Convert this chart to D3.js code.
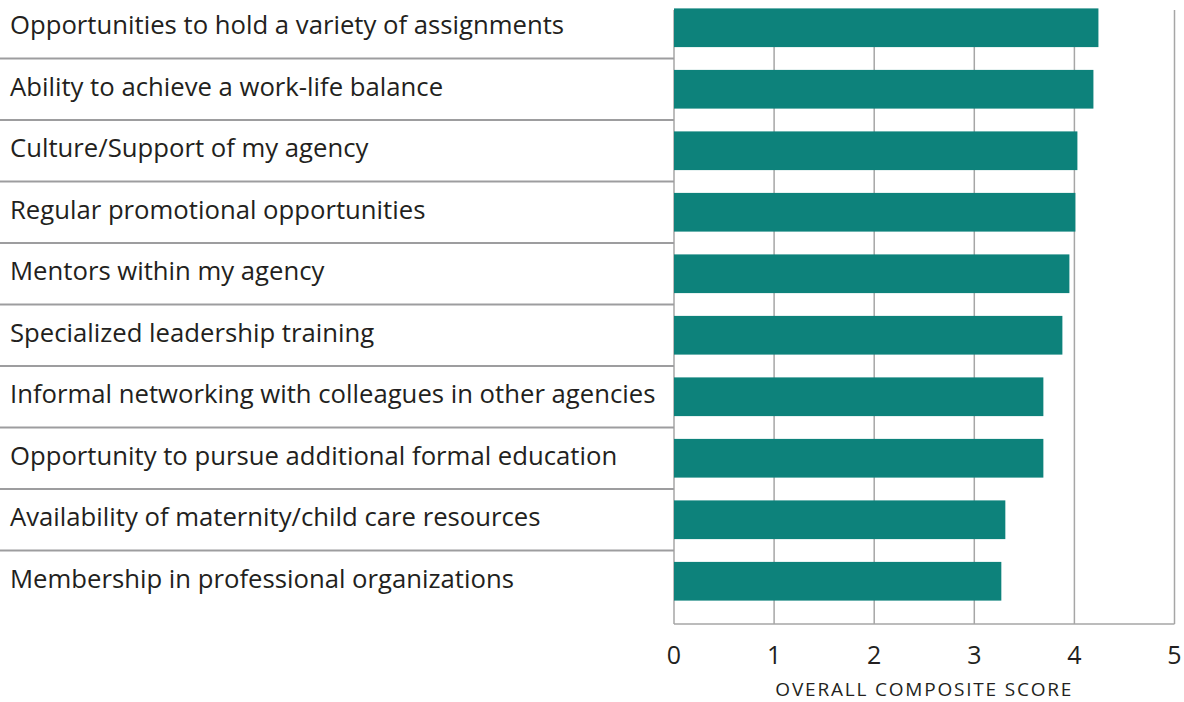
<!DOCTYPE html>
<html>
<head>
<meta charset="utf-8">
<script src="https://cdn.jsdelivr.net/npm/d3@7"></script>
<style>
  body { margin: 0; background: #fff; }
  svg text { font-family: "Open Sans", Lato, sans-serif; fill: #231f20; }
</style>
</head>
<body>
<div id="chart"></div>
<script>
// Data
const categories = [
  "Opportunities to hold a variety of assignments",
  "Ability to achieve a work-life balance",
  "Culture/Support of my agency",
  "Regular promotional opportunities",
  "Mentors within my agency",
  "Specialized leadership training",
  "Informal networking with colleagues in other agencies",
  "Opportunity to pursue additional formal education",
  "Availability of maternity/child care resources",
  "Membership in professional organizations"
];
const scores = [4.24, 4.19, 4.03, 4.01, 3.95, 3.88, 3.69, 3.69, 3.31, 3.27];
const xTicks = [0, 1, 2, 3, 4, 5];
const axisTitle = "OVERALL COMPOSITE SCORE";

const data = categories.map((c, i) => ({ label: c, value: scores[i] }));

const width = 1184;
const height = 702;

const svg = d3
  .select("#chart")
  .append("svg")
  .attr("width", width)
  .attr("height", height);

// Scales
const x = d3.scaleLinear().domain([0, 5]).range([674, 1174.5]);
const y = d3
  .scaleBand()
  .domain(categories)
  .range([-3, 612])
  .paddingInner(0);

const barH = 38.7;
const gridTop = 10;
const gridBottom = 624;

// Vertical gridlines
svg
  .append("g")
  .selectAll("line")
  .data(xTicks)
  .enter()
  .append("line")
  .attr("x1", (d) => x(d))
  .attr("x2", (d) => x(d))
  .attr("y1", gridTop)
  .attr("y2", gridBottom)
  .attr("stroke", "#a6a6a6")
  .attr("stroke-width", 1.5);

// Bottom line of plot
svg
  .append("line")
  .attr("x1", x(0))
  .attr("x2", x(5))
  .attr("y1", gridBottom)
  .attr("y2", gridBottom)
  .attr("stroke", "#a6a6a6")
  .attr("stroke-width", 1.5);

// Row separators on the label side
svg
  .append("g")
  .selectAll("line")
  .data(categories.slice(0, -1))
  .enter()
  .append("line")
  .attr("x1", 0)
  .attr("x2", x(0))
  .attr("y1", (d) => y(d) + y.bandwidth())
  .attr("y2", (d) => y(d) + y.bandwidth())
  .attr("stroke", "#9d9d9f")
  .attr("stroke-width", 2);

// Bars
svg
  .append("g")
  .selectAll("rect")
  .data(data)
  .enter()
  .append("rect")
  .attr("x", x(0))
  .attr("y", (d) => y(d.label) + (y.bandwidth() - barH) / 2)
  .attr("width", (d) => x(d.value) - x(0))
  .attr("height", barH)
  .attr("fill", "#0d827b");

// Category labels
svg
  .append("g")
  .selectAll("text")
  .data(data)
  .enter()
  .append("text")
  .attr("x", 10)
  .attr("y", (d) => y(d.label) + y.bandwidth() / 2 - 3)
  .attr("dominant-baseline", "central")
  .style("font-size", "25.7px")
  .text((d) => d.label);

// Tick labels
svg
  .append("g")
  .selectAll("text")
  .data(xTicks)
  .enter()
  .append("text")
  .attr("x", (d) => x(d))
  .attr("y", 654)
  .attr("text-anchor", "middle")
  .attr("dominant-baseline", "central")
  .style("font-size", "25px")
  .text((d) => d);

// Axis title
svg
  .append("text")
  .attr("x", x(2.5))
  .attr("y", 689)
  .attr("text-anchor", "middle")
  .attr("dominant-baseline", "central")
  .style("font-size", "19px")
  .style("letter-spacing", "1.8px")
  .text(axisTitle);
</script>
</body>
</html>
